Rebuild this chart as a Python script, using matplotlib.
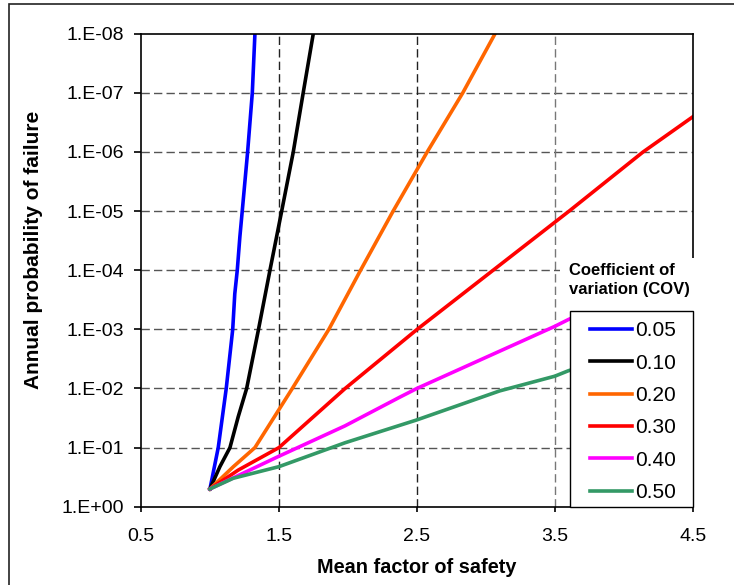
import matplotlib
matplotlib.use("Agg")
import matplotlib.pyplot as plt
from matplotlib.patches import Rectangle

plt.rcParams["font.family"] = ["Liberation Sans", "DejaVu Sans"]

# Curves: mean factor of safety vs annual probability of failure
fs_005 = [1.0, 1.06, 1.118, 1.165, 1.18, 1.198, 1.217, 1.234, 1.273, 1.307, 1.326]
pf_005 = [0.5, 1e-1, 1e-2, 1e-3, 2.5e-4, 1e-4, 2.7e-5, 1e-5, 1e-6, 1e-7, 1e-8]

fs_010 = [1.0, 1.072, 1.145, 1.205, 1.266, 1.352, 1.435, 1.52, 1.604, 1.676, 1.749]
pf_010 = [0.5, 0.21, 1e-1, 3e-2, 1e-2, 1e-3, 1e-4, 1e-5, 1e-6, 1e-7, 1e-8]

fs_020 = [1.0, 1.17, 1.326, 1.597, 1.862, 2.092, 2.328, 2.575, 2.833, 3.067]
pf_020 = [0.5, 0.21, 1e-1, 1e-2, 1e-3, 1e-4, 1e-5, 1e-6, 1e-7, 1e-8]

fs_030 = [1.0, 1.205, 1.5, 1.98, 2.502, 3.053, 3.604, 4.14, 4.505]
pf_030 = [0.5, 0.24, 1e-1, 1e-2, 1e-3, 1e-4, 1e-5, 1e-6, 2.5e-7]

fs_040 = [1.0, 1.5, 1.978, 2.377, 2.5, 3.5, 3.6, 4.5]
pf_040 = [0.5, 0.14, 4.3e-2, 1.4e-2, 1e-2, 8.9e-4, 6.8e-4, 8.1e-5]

fs_050 = [1.0, 1.169, 1.5, 1.978, 2.5, 3.1, 3.5, 3.6, 4.5]
pf_050 = [0.5, 0.33, 0.21, 8.3e-2, 3.4e-2, 1.1e-2, 6.2e-3, 5.0e-3, 1.1e-3]

cov_labels = ["0.05", "0.10", "0.20", "0.30", "0.40", "0.50"]
colors = ["#0000FF", "#000000", "#FF6600", "#FF0000", "#FF00FF", "#339966"]

x_ticks = [0.5, 1.5, 2.5, 3.5, 4.5]
y_ticks = [1e0, 1e-1, 1e-2, 1e-3, 1e-4, 1e-5, 1e-6, 1e-7, 1e-8]
y_ticklabels = ["1.E+00", "1.E-01", "1.E-02", "1.E-03", "1.E-04",
                "1.E-05", "1.E-06", "1.E-07", "1.E-08"]

fig = plt.figure(figsize=(7.34, 5.85), dpi=100)
ax = fig.add_axes([0.1921, 0.1338, 0.7516, 0.8085])

series = [(fs_005, pf_005), (fs_010, pf_010), (fs_020, pf_020),
          (fs_030, pf_030), (fs_040, pf_040), (fs_050, pf_050)]
handles = []
for (fs, pf), c in zip(series, colors):
    h, = ax.plot(fs, pf, color=c, lw=2.6, zorder=2)
    handles.append(h)

ax.set_yscale("log")
ax.set_xlim(0.5, 4.5)
ax.set_ylim(1, 1e-8)
ax.set_xticks(x_ticks)
ax.set_xticklabels([f"{v:.1f}" for v in x_ticks])
ax.set_yticks(y_ticks)
ax.set_yticklabels(y_ticklabels)
ax.minorticks_off()

# dashed grid
for v in y_ticks[1:-1]:
    ax.axhline(v, color="#555555", lw=1, dashes=(6, 3), zorder=1)
for v, c in zip(x_ticks[1:-1], ["#222222", "#222222", "#777777"]):
    ax.axvline(v, color=c, lw=1, dashes=(6, 3), zorder=1)

for s in ax.spines.values():
    s.set_linewidth(1.2)
ax.tick_params(axis="y", direction="out", length=5, width=1.2, pad=7, labelsize=14)
ax.tick_params(axis="x", direction="out", length=3.6, width=1.2, pad=12, labelsize=14)

ax.set_xlabel("Mean factor of safety", fontsize=14.3, fontweight="bold")
ax.set_ylabel("Annual probability of failure", fontsize=15, fontweight="bold")
ax.xaxis.set_label_coords(0.5, -0.109)
ax.yaxis.set_label_coords(-0.178, 0.543)

# legend title area and legend box
ax.add_patch(Rectangle((0.7595, 0.4144), 0.27, 0.1114, transform=ax.transAxes,
                       facecolor="white", edgecolor="none", zorder=3.5, clip_on=False))
ax.add_patch(Rectangle((0.777, 0.0), 0.223, 0.4144, transform=ax.transAxes,
                       facecolor="white", edgecolor="black", lw=1, zorder=4, clip_on=False))
ax.text(0.7752, 0.4793, "Coefficient of\nvariation (COV)", transform=ax.transAxes,
        fontsize=12, fontweight="bold", ha="left", va="center", linespacing=1.3, zorder=6)
leg = ax.legend(handles, cov_labels, loc="upper left", bbox_to_anchor=(0.8138, 0.392),
                frameon=False, fontsize=15, handlelength=2.0, handletextpad=0.19,
                labelspacing=0.64, borderpad=0, borderaxespad=0)
leg.set_zorder(6)

# outer chart border
fig.patches.append(Rectangle((9 / 734, -0.05), 1.1, 1.0432, transform=fig.transFigure,
                             fill=False, edgecolor="#222222", lw=1.2))

fig.savefig("out.png", dpi=100)
